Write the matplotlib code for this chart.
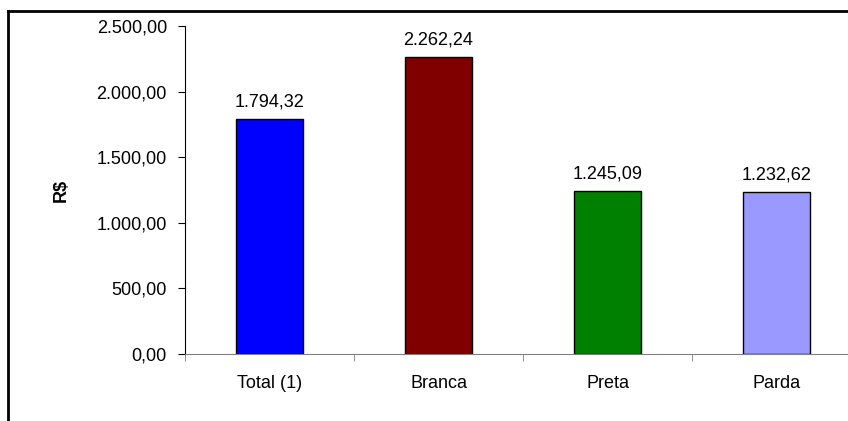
import matplotlib.pyplot as plt
from matplotlib.lines import Line2D

categories = ['Total (1)', 'Branca', 'Preta', 'Parda']
values = [1794.32, 2262.24, 1245.09, 1232.62]
colors = ['#0000FF', '#800000', '#008000', '#9999FF']
yticks = [0, 500, 1000, 1500, 2000, 2500]


def br(v):
    s = '{:,.2f}'.format(v)
    return s.replace(',', 'X').replace('.', ',').replace('X', '.')


plt.rcParams['font.family'] = ['Liberation Sans', 'DejaVu Sans']
plt.rcParams['font.size'] = 13

fig = plt.figure(figsize=(8.48, 4.21), dpi=100)
W, H = 848, 421
# plot area runs past the right edge of the picture
x0, x1 = 185, 185 + 4 * 169
y0, y1 = 354, 26
ax = fig.add_axes([x0 / W, 1 - y0 / H, (x1 - x0) / W, (y0 - y1) / H])

pos = range(len(categories))
ax.bar(pos, values, width=0.4, color=colors, edgecolor='black', linewidth=1)
for p, v in zip(pos, values):
    ax.annotate(br(v), (p, v), xytext=(0, 6), textcoords='offset points',
                ha='center', va='bottom')

ax.set_xlim(-0.5, len(categories) - 0.5)
ax.set_ylim(0, 2500)
ax.set_yticks(yticks)
ax.set_yticklabels([br(t) for t in yticks])
ax.set_xticks(pos)
ax.set_xticklabels(categories)
ax.set_xticks([p + 0.5 for p in range(-1, len(categories))], minor=True)
ax.tick_params(axis='x', which='major', length=0, pad=15)
ax.tick_params(axis='x', which='minor', length=5, direction='out', color='#808080')
ax.tick_params(axis='y', length=5, direction='out', pad=8)

for s in ['top', 'right']:
    ax.spines[s].set_visible(False)
ax.spines['bottom'].set_color('#808080')
ax.spines['left'].set_color('black')
ax.set_ylabel('R$', fontweight='bold')
ax.yaxis.set_label_coords(-0.17, 0.5)

# outer chart frame (cropped)
fig.add_artist(Line2D([8 / W, 8 / W], [0, 1 - 11 / H], color='black', lw=2))
fig.add_artist(Line2D([8 / W, 1], [1 - 11 / H, 1 - 11 / H], color='black', lw=2))

fig.savefig('out.png', dpi=100)
